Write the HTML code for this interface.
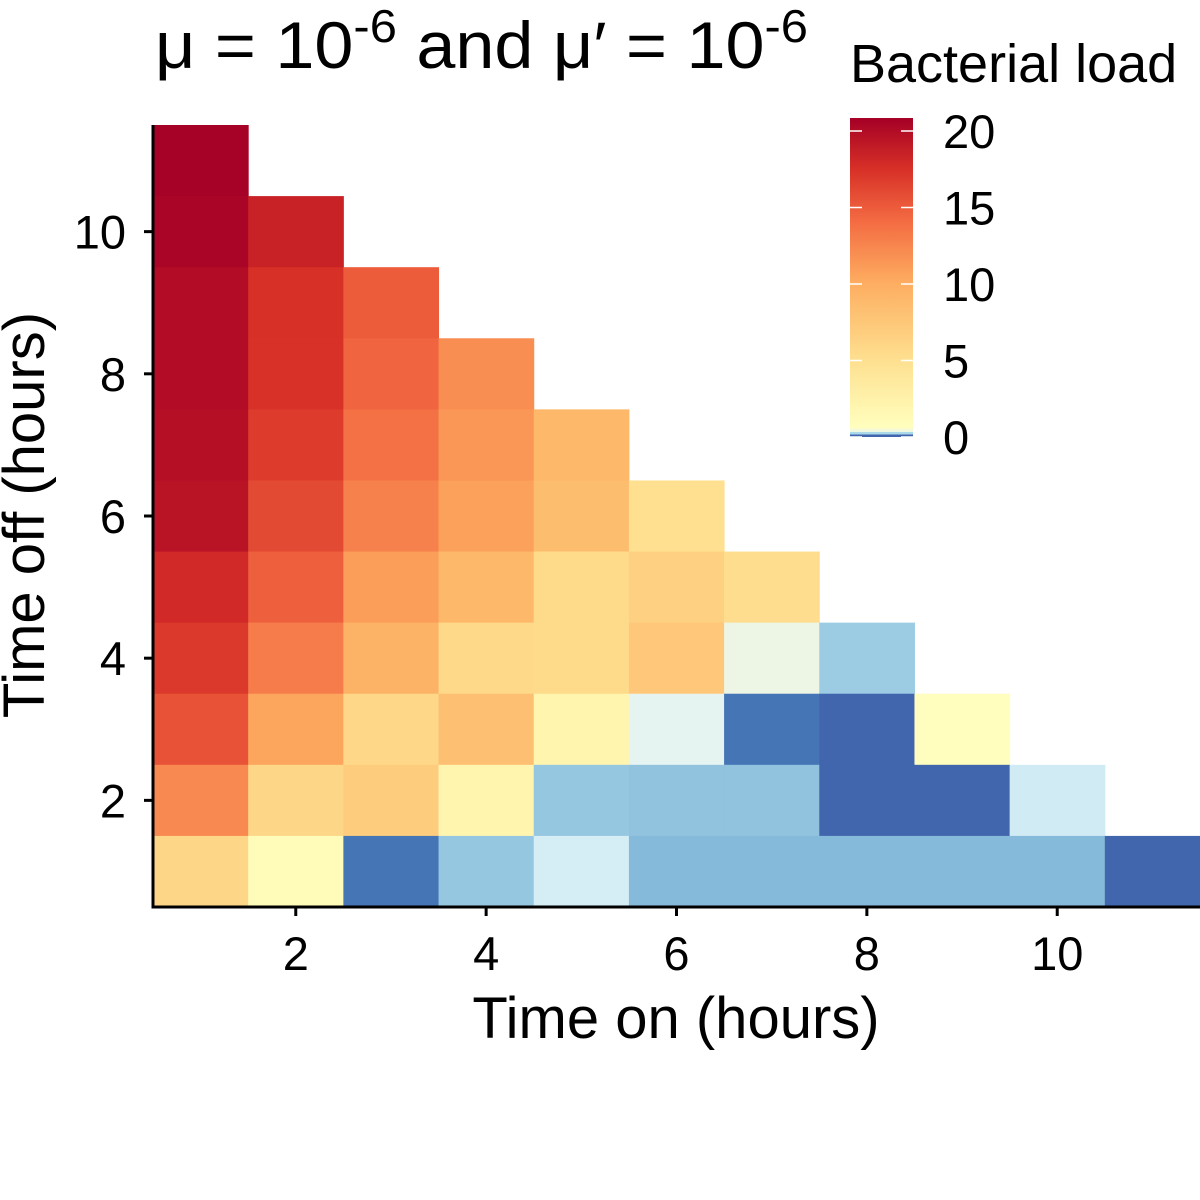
<!DOCTYPE html>
<html><head><meta charset="utf-8"><style>
html,body{margin:0;padding:0;background:#fff;}
svg{display:block;font-family:"Liberation Sans",sans-serif;}
</style></head><body>
<svg id="chart" width="1200" height="1200" viewBox="0 0 1200 1200" xmlns="http://www.w3.org/2000/svg">
<rect width="1200" height="1200" fill="#fff"/>
<text x="155" y="68" font-size="66" textLength="653" lengthAdjust="spacingAndGlyphs">μ = 10<tspan dy="-26" font-size="46">-6</tspan><tspan dy="26"> and μ′ = 10</tspan><tspan dy="-26" font-size="46">-6</tspan></text>
<g id="cells"></g>
<g id="axes"></g>
<text x="676" y="1038" font-size="58" text-anchor="middle">Time on (hours)</text>
<text transform="translate(44,515) rotate(-90)" font-size="58" text-anchor="middle">Time off (hours)</text>
<text x="850" y="82" font-size="54">Bacterial load</text>
<defs><linearGradient id="lg" x1="0" y1="1" x2="0" y2="0"></linearGradient></defs>
<g id="legend"></g>
</svg>
<script>
// data: rows by time off (y), from y=11 down to y=1; values for time on x=1..
const yRows = [11,10,9,8,7,6,5,4,3,2,1];
const loads = [
 [20.8],
 [20.5,18.5],
 [20,17.5,15],
 [20,17.4,14.5,12],
 [19.8,16.8,13.8,11.5,9],
 [19.5,16,12.8,10.8,8.5,5],
 [18,14.8,11,9,5.5,6.5,5.2],
 [17,13,9.5,5.7,5.5,7.5,0.38,0.17],
 [15.5,10.5,5.8,8.3,2,0.33,0.03,0,0.6],
 [12.3,6,7,2,0.16,0.15,0.15,0,0,0.27],
 [6,1,0.03,0.16,0.28,0.13,0.13,0.13,0.13,0.13,0]
];
const xTicks = [2,4,6,8,10];
const yTicks = [2,4,6,8,10];
const legendTicks = [0,5,10,15,20];

const NS="http://www.w3.org/2000/svg";
const X0=153, X1=1200, Y0=907, Y1=125;
const xs = v => X0 + (v-0.5)*(X1-X0)/11;
const ys = v => Y0 - (v-0.5)*(Y0-Y1)/11;
const stops=[[0,"#4266ad"],[0.03,"#4575b4"],[0.13,"#86badb"],[0.2,"#abd9e9"],[0.3,"#e0f3f8"],[0.4,"#f0f7e0"],[0.5,"#ffffbf"],[5,"#fee090"],[10,"#fdae61"],[14,"#f46d43"],[17.5,"#d73027"],[20.85,"#a50026"]];
function hex(h){return [1,3,5].map(i=>parseInt(h.substr(i,2),16));}
function color(v){
  if(v<=stops[0][0])return stops[0][1];
  for(let i=1;i<stops.length;i++){
    if(v<=stops[i][0]){
      const t=(v-stops[i-1][0])/(stops[i][0]-stops[i-1][0]);
      const a=hex(stops[i-1][1]),b=hex(stops[i][1]);
      return "rgb("+a.map((c,k)=>Math.round(c+(b[k]-c)*t)).join(",")+")";
    }
  }
  return stops[stops.length-1][1];
}
function el(tag,attrs,parent){const e=document.createElementNS(NS,tag);for(const k in attrs)e.setAttribute(k,attrs[k]);parent.appendChild(e);return e;}
const cells=document.getElementById("cells");
yRows.forEach((y,ri)=>{
  loads[ri].forEach((v,ci)=>{
    const x=ci+1;
    const r=el("rect",{x:xs(x-0.5),y:ys(y+0.5),width:xs(x+0.5)-xs(x-0.5)+0.5,height:ys(y-0.5)-ys(y+0.5)+0.5,fill:color(v)},cells);
    
    
  });
});
const ax=document.getElementById("axes");
el("line",{x1:X0,y1:Y1,x2:X0,y2:Y0+1.5,stroke:"#000","stroke-width":3},ax);
el("line",{x1:X0-1.5,y1:Y0,x2:X1,y2:Y0,stroke:"#000","stroke-width":3},ax);
xTicks.forEach(t=>{
  el("line",{x1:xs(t),y1:Y0,x2:xs(t),y2:Y0+9,stroke:"#000","stroke-width":3},ax);
  const tx=el("text",{x:xs(t),y:970,"font-size":47,"text-anchor":"middle"},ax);tx.textContent=t;
  
  
});
yTicks.forEach(t=>{
  el("line",{x1:X0-9,y1:ys(t),x2:X0,y2:ys(t),stroke:"#000","stroke-width":3},ax);
  const tx=el("text",{x:126,y:ys(t)+17,"font-size":47,"text-anchor":"end"},ax);tx.textContent=t;
  
  
});
// legend
const LMIN=0,LMAX=20.85,LB=437,LT=118;
const lv=v=>LB-(v-LMIN)/(LMAX-LMIN)*(LB-LT);
const lg=document.getElementById("lg");
for(let i=0;i<=100;i++){
  const v=LMIN+(LMAX-LMIN)*(i/100);
  el("stop",{offset:(i)+"%","stop-color":color(v)},lg);
}
const leg=document.getElementById("legend");
el("rect",{x:850,y:LT,width:63,height:LB-LT,fill:"url(#lg)"},leg);
[[0,"#4266ad"],[0.2,"#abd9e9"],[0.4,"#f0f7e0"]].forEach((s,i)=>{el("rect",{x:850,y:LB-2.5-i*2.5,width:63,height:2.5,fill:s[1]},leg);});
legendTicks.forEach(t=>{
  el("line",{x1:850,y1:lv(t),x2:862,y2:lv(t),stroke:"#fff","stroke-width":1.5},leg);
  el("line",{x1:901,y1:lv(t),x2:913,y2:lv(t),stroke:"#fff","stroke-width":1.5},leg);
  const tx=el("text",{x:943,y:lv(t)+17,"font-size":47},leg);tx.textContent=t;
  
  
});
</script>
</body></html>
